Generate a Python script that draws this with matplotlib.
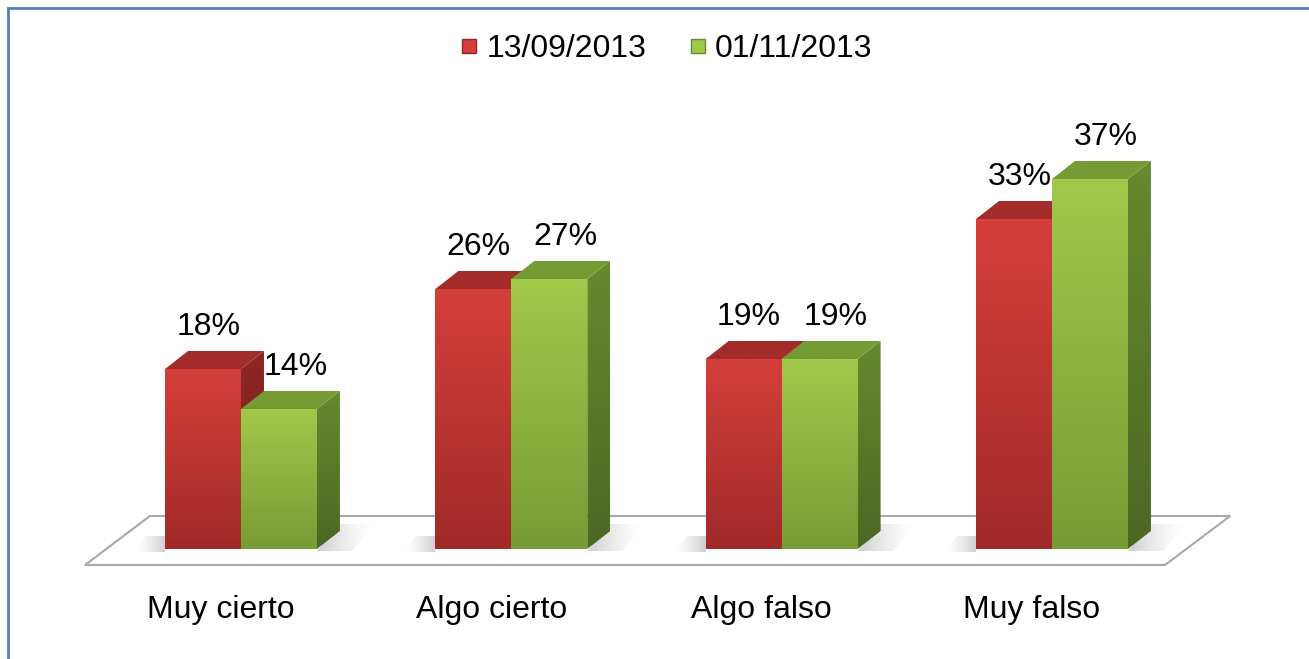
import numpy as np
import matplotlib.pyplot as plt
from matplotlib.patches import Polygon
from matplotlib.lines import Line2D
from matplotlib.colors import LinearSegmentedColormap

plt.rcParams['font.family'] = ['Liberation Sans', 'DejaVu Sans']

categories = ["Muy cierto", "Algo cierto", "Algo falso", "Muy falso"]
series_names = ["13/09/2013", "01/11/2013"]
sept = [18, 26, 19, 33]
nov = [14, 27, 19, 37]

# face colours: front (top, bottom), side (top, bottom), top
red = dict(front=("#d43f3a", "#a02a29"), side=("#8e2624", "#72201e"), top="#a32c2a")
green = dict(front=("#a0c94a", "#779c35"), side=("#668a2e", "#4b6823"), top="#759b35")

bar_w = 0.281
dx, dy = 0.085, 1.8  # depth of the 3D boxes, in data units

fig = plt.figure(figsize=(13.09, 6.59), dpi=100)
ax = fig.add_axes([0, 0, 1, 1])
ax.set_axis_off()


def shaded(verts, c_top, c_bot, z):
    poly = Polygon(verts, closed=True, facecolor="none", edgecolor="none")
    ax.add_patch(poly)
    xs = [p[0] for p in verts]
    ys = [p[1] for p in verts]
    cmap = LinearSegmentedColormap.from_list("f", [c_bot, c_top])
    im = ax.imshow(np.linspace(0, 1, 128).reshape(-1, 1), cmap=cmap, origin="lower",
                   extent=[min(xs), max(xs), min(ys), max(ys)], aspect="auto",
                   zorder=z, interpolation="bilinear")
    im.set_clip_path(poly)


def shadow(verts, fade_right, z):
    # grey that fades out horizontally
    poly = Polygon(verts, closed=True, facecolor="none", edgecolor="none")
    ax.add_patch(poly)
    xs = [p[0] for p in verts]
    ys = [p[1] for p in verts]
    alpha = np.linspace(0.5, 0.0, 64) ** 1.5
    if not fade_right:
        alpha = alpha[::-1]
    rgba = np.zeros((1, 64, 4))
    rgba[..., :3] = 0.45
    rgba[..., 3] = alpha
    im = ax.imshow(rgba, extent=[min(xs), max(xs), min(ys), max(ys)], aspect="auto",
                   zorder=z, interpolation="bilinear")
    im.set_clip_path(poly)


def box(x0, h, c, z):
    x1 = x0 + bar_w
    # side face
    shaded([(x1, 0), (x1 + dx, dy), (x1 + dx, h + dy), (x1, h)], *c["side"], z)
    # top face
    ax.add_patch(Polygon([(x0, h), (x0 + dx, h + dy), (x1 + dx, h + dy), (x1, h)],
                         closed=True, facecolor=c["top"], edgecolor="none", zorder=z))
    # front face
    shaded([(x0, 0), (x1, 0), (x1, h), (x0, h)], *c["front"], z + 0.1)


# floor
floor = [(-0.577, -1.6), (-0.337, 3.3), (3.659, 3.3), (3.418, -1.6)]
ax.add_patch(Polygon(floor, closed=True, facecolor="white", edgecolor="#a8a8a8",
                     linewidth=1.5, zorder=1))

for i, (a, b) in enumerate(zip(sept, nov)):
    z = 2 + i
    xr = i + bar_w
    xl = i - bar_w
    # soft shadows on the floor
    shadow([(xr, -0.2), (xr + dx, 2.5), (xr + dx + 0.13, 2.5), (xr + 0.13, -0.2)], True, 1.5)
    shadow([(xl - 0.12, -0.3), (xl, -0.3), (xl, 1.3), (xl - 0.07, 1.3)], False, 1.5)
    box(xl, a, red, z)
    box(i, b, green, z + 0.3)
    ax.text(xl + bar_w / 2 + 0.02, a + 4.2, f"{a}%", ha="center", va="center",
            fontsize=23, zorder=10)
    ax.text(i + bar_w / 2 + 0.06, b + 4.2, f"{b}%", ha="center", va="center",
            fontsize=23, zorder=10)
    ax.text(i - 0.074, -6.1, categories[i], ha="center", va="center", fontsize=23)

ax.set_xlim(-0.8915, 3.9507)
ax.set_ylim(-11, 54.9)

handles = [Line2D([], [], marker="s", linestyle="none", markersize=10,
                  markerfacecolor=c["front"][0], markeredgecolor=c["side"][0])
           for c in (red, green)]
ax.legend(handles, series_names, loc="center", bbox_to_anchor=(666 / 1309, 1 - 49 / 659),
          ncol=2, frameon=False, fontsize=23, handlelength=0.6, handletextpad=0.25,
          columnspacing=1.3, borderpad=0)

# blue frame on the left and top edges
fx, fy = 7.5 / 1309, 1 - 7.5 / 659
fig.add_artist(Line2D([fx, fx], [0, fy], color="#4f81bd", linewidth=2))
fig.add_artist(Line2D([fx, 1], [fy, fy], color="#4f81bd", linewidth=2))

fig.savefig("out.png", dpi=100)
